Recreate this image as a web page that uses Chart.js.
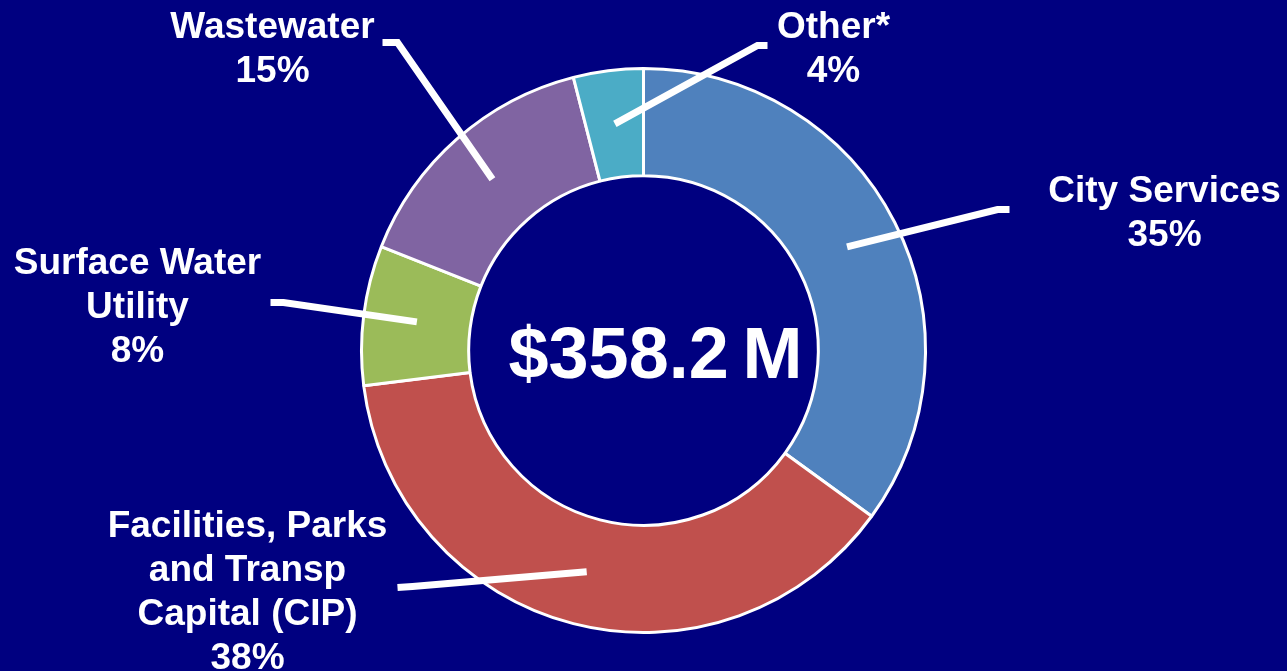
<!DOCTYPE html>
<html>
<head>
<meta charset="utf-8">
<script src="https://cdn.jsdelivr.net/npm/chart.js@4.4.1/dist/chart.umd.min.js"></script>
<style>
  html, body { margin: 0; padding: 0; background: #000080; }
  #wrap { width: 1287px; height: 671px; position: relative; }
  canvas { display: block; }
</style>
</head>
<body>
<div id="wrap"><canvas id="c" width="1287" height="671"></canvas></div>
<script>
// ---- data ----
const categories = ['City Services', 'Facilities, Parks and Transp Capital (CIP)', 'Surface Water Utility', 'Wastewater', 'Other*'];
const shares = [35, 38, 8, 15, 4];
const labelLines = [
  ['City Services'],
  ['Facilities, Parks', 'and Transp', 'Capital (CIP)'],
  ['Surface Water', 'Utility'],
  ['Wastewater'],
  ['Other*']
];
const totalMain = '$358.2';
const totalUnit = 'M';

// ---- styling / layout ----
const colors = ['#4F81BD', '#C0504D', '#9BBB59', '#8064A2', '#4BACC6'];
// label anchor (x centre, first baseline) relative to doughnut centre
const labelAnchor = [[521, -149], [-396, 186], [-506, -77], [-371, -313], [190, -313]];
// leader line outer end and knee, relative to doughnut centre
const leaderEnd  = [[366, -141], [-246, 237], [-373, -48], [-261, -308], [124, -305]];
const leaderKnee = [[354, -141], [-231, 236], [-360, -48], [-246, -308], [114, -305]];
const FONT = 'bold 37px "Liberation Sans", Arial, sans-serif';
const LINE_H = 44;

const labelsPlugin = {
  id: 'labelsPlugin',
  afterDatasetsDraw(chart) {
    const ctx = chart.ctx;
    const meta = chart.getDatasetMeta(0);
    const arc0 = meta.data[0];
    const cx = arc0.x, cy = arc0.y;
    ctx.save();
    // leader lines
    ctx.strokeStyle = '#FFFFFF';
    ctx.lineWidth = 7;
    ctx.lineCap = 'butt';
    ctx.lineJoin = 'miter';
    meta.data.forEach((arc, i) => {
      const p = arc.tooltipPosition(true);
      ctx.beginPath();
      ctx.moveTo(cx + leaderEnd[i][0], cy + leaderEnd[i][1]);
      ctx.lineTo(cx + leaderKnee[i][0], cy + leaderKnee[i][1]);
      ctx.lineTo(p.x, p.y);
      ctx.stroke();
    });
    // labels
    ctx.fillStyle = '#FFFFFF';
    ctx.font = FONT;
    ctx.textAlign = 'center';
    ctx.textBaseline = 'alphabetic';
    labelLines.forEach((lines, i) => {
      const all = lines.concat([shares[i] + '%']);
      all.forEach((t, j) => {
        ctx.fillText(t, cx + labelAnchor[i][0], cy + labelAnchor[i][1] + j * LINE_H);
      });
    });
    // centre total
    ctx.font = 'bold 72px "Liberation Sans", Arial, sans-serif';
    ctx.textAlign = 'left';
    ctx.fillText(totalMain, cx - 135, cy + 27);
    ctx.fillText(totalUnit, cx + 99, cy + 27);
    ctx.restore();
  }
};

new Chart(document.getElementById('c'), {
  type: 'doughnut',
  data: {
    labels: categories,
    datasets: [{
      data: shares,
      backgroundColor: colors,
      borderColor: '#FFFFFF',
      borderWidth: 3,
      hoverOffset: 0
    }]
  },
  options: {
    responsive: false,
    animation: false,
    radius: 282,
    cutout: '62%',
    rotation: 0,
    layout: { padding: { top: 30, bottom: 0, left: 0, right: 0 } },
    plugins: { legend: { display: false }, tooltip: { enabled: false } },
    events: []
  },
  plugins: [labelsPlugin]
});
</script>
</body>
</html>
